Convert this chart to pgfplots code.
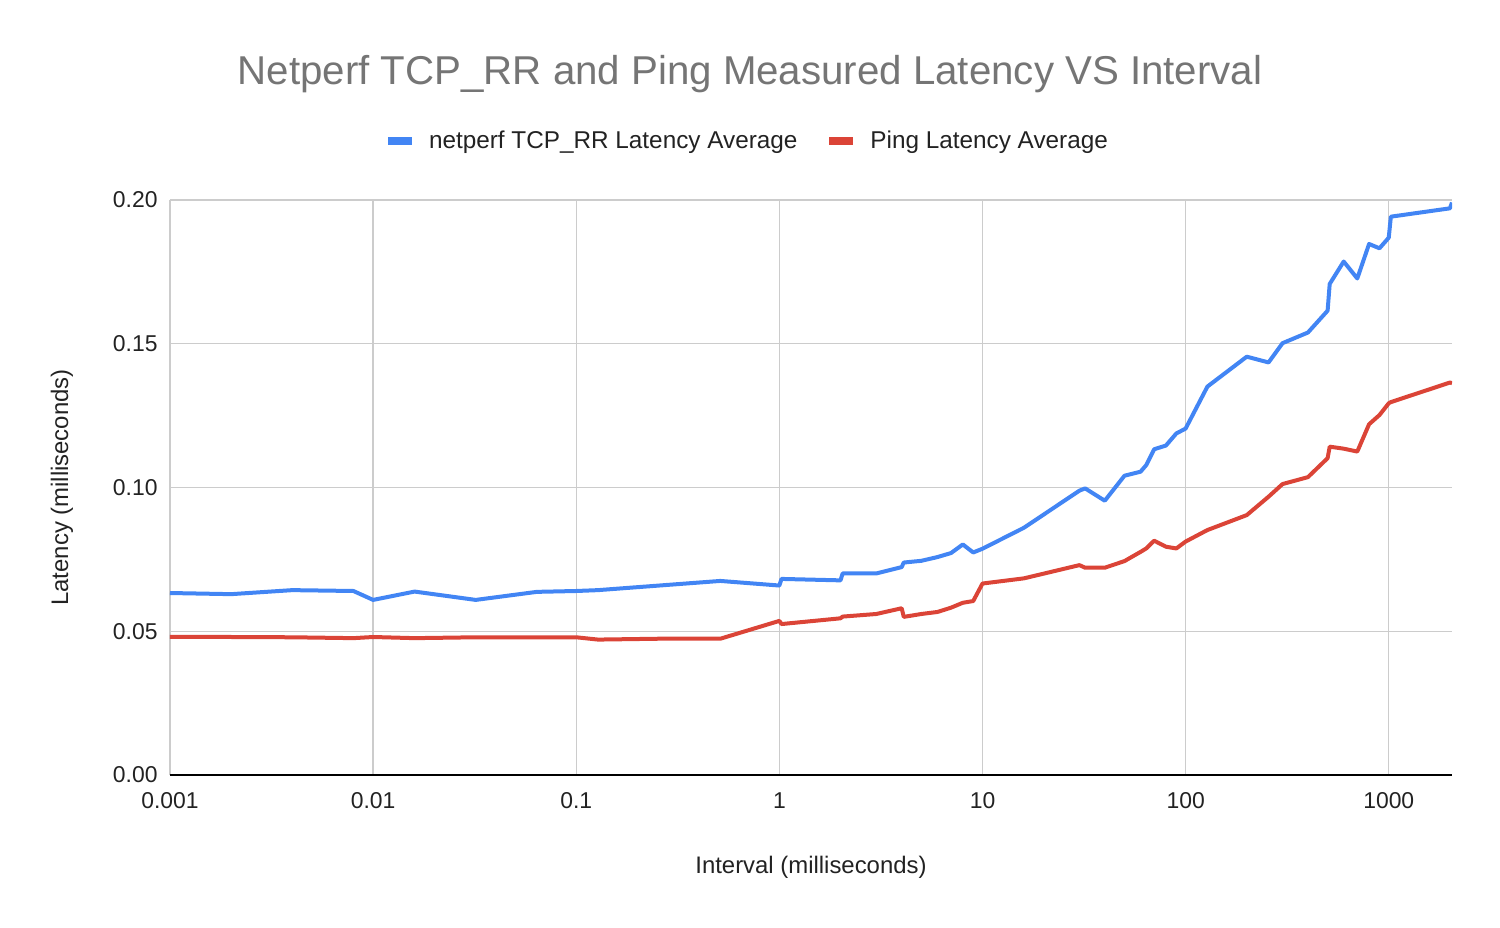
\documentclass[border=0pt]{standalone}
\usepackage{pgfplots}
\pgfplotsset{compat=1.18}
\usepackage{fontspec}
\setmainfont{Liberation Sans}
\definecolor{gblue}{HTML}{4285F4}
\definecolor{gred}{HTML}{DB4437}
\definecolor{ggrid}{HTML}{CCCCCC}
\definecolor{gtitle}{HTML}{757575}
\definecolor{gtext}{HTML}{222222}
\begin{document}
\begin{tikzpicture}
\path (0bp,0bp) rectangle (750bp,464bp);
\begin{axis}[
  at={(85bp,76.5bp)}, anchor=south west,
  scale only axis, width=641bp, height=287.5bp,
  xmode=log, log basis x=10,
  xmin=0.001, xmax=2048, ymin=0, ymax=0.2,
  xtick={0.001,0.01,0.1,1,10,100,1000},
  xticklabels={0.001,0.01,0.1,1,10,100,1000},
  minor xtick={},
  ytick={0,0.05,0.1,0.15,0.2},
  yticklabels={0.00,0.05,0.10,0.15,0.20},
  major tick length=0pt,
  grid=major,
  major grid style={ggrid, line width=0.7bp},
  axis lines*=left,
  x axis line style={draw=black, line width=0.8bp},
  y axis line style={draw=none},
  xticklabel style={font=\fontsize{11.5}{13}\selectfont, text=gtext, anchor=center, inner sep=0pt, yshift=-13bp},
  yticklabel style={font=\fontsize{11.5}{13}\selectfont, text=gtext, anchor=east, inner sep=0pt, xshift=-6bp},
  xlabel={Interval (milliseconds)},
  ylabel={Latency (milliseconds)},
  xlabel style={font=\fontsize{12}{14}\selectfont, text=gtext, at={(axis description cs:0.5,0)}, anchor=center, yshift=-46bp},
  ylabel style={font=\fontsize{12}{14}\selectfont, text=gtext, at={(axis description cs:0,0.5)}, anchor=center, yshift=54bp},
  legend style={at={(0.4524,1.1026)}, anchor=center, draw=none, fill=none,
    font=\fontsize{12.2}{14}\selectfont, text=gtext, legend columns=2,
    /tikz/every even column/.append style={column sep=14bp}},
  legend image code/.code={\fill[#1, draw=none] (0bp,-2bp) rectangle (12bp,2bp); \path[draw=none, fill=none] (0bp,0bp) -- (18.5bp,0bp);},
]
\addplot[gblue, line width=2bp, line join=round] coordinates {
(0.001,0.0633) (0.002,0.0629) (0.004,0.0643) (0.008,0.0640) (0.01,0.0609)
(0.016,0.0638) (0.032,0.0609) (0.064,0.0637) (0.1,0.0640) (0.128,0.0643)
(0.256,0.0659) (0.512,0.0675) (1,0.0659) (1.024,0.0682) (2,0.0677)
(2.048,0.0701) (3,0.0701) (4,0.0723) (4.096,0.0739) (5,0.0745)
(6,0.0758) (7,0.0772) (8,0.0802) (9,0.0774) (10,0.0787)
(16,0.0860) (30,0.0989) (32,0.0997) (40,0.0954) (50,0.1041)
(60,0.1055) (64,0.1078) (70,0.1133) (80,0.1146) (90,0.1188)
(100,0.1205) (128,0.1351) (200,0.1455) (256,0.1435) (300,0.1502)
(400,0.1539) (500,0.1615) (512,0.1708) (600,0.1786) (700,0.1727)
(800,0.1847) (900,0.1832) (1000,0.1869) (1024,0.1942) (2000,0.1971)
(2048,0.1991)
};
\addlegendentry{netperf TCP\_RR Latency Average}
\addplot[gred, line width=2bp, line join=round] coordinates {
(0.001,0.0480) (0.002,0.0480) (0.004,0.0479) (0.008,0.0476) (0.01,0.0480)
(0.016,0.0476) (0.032,0.0479) (0.064,0.0479) (0.1,0.0479) (0.128,0.0471)
(0.256,0.0474) (0.512,0.0474) (1,0.0536) (1.024,0.0525) (2,0.0545)
(2.048,0.0551) (3,0.0560) (4,0.0580) (4.096,0.0550) (5,0.0560)
(6,0.0567) (7,0.0582) (8,0.0599) (9,0.0605) (10,0.0666)
(16,0.0684) (30,0.0730) (32,0.0721) (40,0.0721) (50,0.0744)
(60,0.0776) (64,0.0788) (70,0.0815) (80,0.0794) (90,0.0788)
(100,0.0812) (128,0.0852) (200,0.0904) (256,0.0968) (300,0.1012)
(400,0.1036) (500,0.1102) (512,0.1142) (600,0.1135) (700,0.1125)
(800,0.1220) (900,0.1252) (1000,0.1293) (1024,0.1297) (2000,0.1365)
(2048,0.1363)
};
\addlegendentry{Ping Latency Average}
\end{axis}
\node[text=gtitle, font=\fontsize{20.2}{24}\selectfont, anchor=center] at (375bp,427bp) {Netperf TCP\_RR and Ping Measured Latency VS Interval};
\end{tikzpicture}
\end{document}
